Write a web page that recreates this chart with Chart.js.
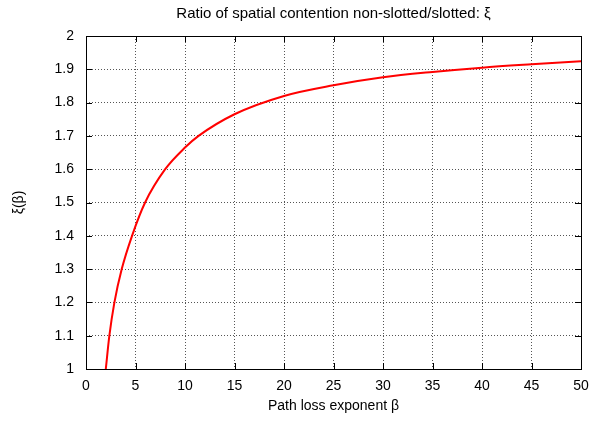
<!DOCTYPE html>
<html>
<head>
<meta charset="utf-8">
<script src="https://cdn.jsdelivr.net/npm/chart.js@4"></script>
<style>
  html, body { margin: 0; padding: 0; background: #fff; }
  #wrap { width: 608px; height: 422px; }
</style>
</head>
<body>
<div id="wrap"><canvas id="xiChart" width="608" height="422"></canvas></div>
<script>
// käyrän lukemat kuvasta (beta, xi)
const beta = [2, 2.36, 2.87, 3.61, 4.65, 5.97, 8, 10, 11.37, 15, 20, 25, 30, 35, 40, 45, 50];
const xi   = [1.0, 1.1, 1.2, 1.3, 1.4, 1.5, 1.6, 1.665, 1.7, 1.765, 1.82, 1.852, 1.876, 1.892, 1.905, 1.915, 1.924];

const otsikko = 'Ratio of spatial contention non-slotted/slotted: \u03be';
const xOtsikko = 'Path loss exponent \u03b2';
const yOtsikko = '\u03be(\u03b2)';

const fontti = "'Liberation Sans', Arial, Helvetica, sans-serif";

// kehys, sisäänpäin tulevat tikit ja otsikko
const kehysPlugin = {
  id: 'kehys',
  afterDraw(c) {
    const a = c.chartArea, ctx = c.ctx;
    const xs = c.scales.x, ys = c.scales.y;
    ctx.save();
    ctx.strokeStyle = '#000';
    ctx.lineWidth = 1;
    ctx.beginPath();
    xs.ticks.forEach(t => {
      const px = Math.round(xs.getPixelForValue(t.value)) + 0.5;
      ctx.moveTo(px, a.bottom); ctx.lineTo(px, a.bottom - 6);
      ctx.moveTo(px, a.top); ctx.lineTo(px, a.top + 6);
    });
    ys.ticks.forEach(t => {
      const py = Math.round(ys.getPixelForValue(t.value)) + 0.5;
      ctx.moveTo(a.left, py); ctx.lineTo(a.left + 6, py);
      ctx.moveTo(a.right, py); ctx.lineTo(a.right - 6, py);
    });
    ctx.stroke();
    ctx.strokeRect(Math.round(a.left) + 0.5, Math.round(a.top) + 0.5,
      Math.round(a.right - a.left), Math.round(a.bottom - a.top));
    ctx.fillStyle = '#000';
    ctx.font = '15px ' + fontti;
    ctx.textAlign = 'center';
    ctx.textBaseline = 'middle';
    ctx.fillText(otsikko, (a.left + a.right) / 2, 14);
    ctx.restore();
  }
};

new Chart(document.getElementById('xiChart'), {
  type: 'line',
  data: {
    datasets: [{
      data: beta.map((b, i) => ({ x: b, y: xi[i] })),
      borderColor: '#ff0000',
      borderWidth: 2,
      pointRadius: 0,
      fill: false,
      cubicInterpolationMode: 'monotone'
    }]
  },
  options: {
    responsive: false,
    animation: false,
    layout: { padding: { top: 36, right: 27, left: 0, bottom: 0 } },
    plugins: { legend: { display: false }, tooltip: { enabled: false } },
    scales: {
      x: {
        type: 'linear', min: 0, max: 50,
        ticks: { stepSize: 5, color: '#000', padding: 9, font: { family: fontti, size: 14 }, maxRotation: 0 },
        grid: { color: '#555', lineWidth: 1, drawTicks: false },
        border: { display: false, dash: [1, 2] },
        title: { display: true, text: xOtsikko, color: '#000', font: { family: fontti, size: 14 }, padding: { top: 4, bottom: 7 } },
        afterFit(s) { s.height = 53; }
      },
      y: {
        min: 1, max: 2,
        ticks: { stepSize: 0.1, color: '#000', padding: 12, font: { family: fontti, size: 14 },
          callback: v => Number(v.toFixed(1)).toString() },
        grid: { color: '#555', lineWidth: 1, drawTicks: false },
        border: { display: false, dash: [1, 2] },
        title: { display: true, text: yOtsikko, color: '#000', font: { family: fontti, size: 14 }, padding: { top: 11 } },
        afterFit(s) { s.width = 86; }
      }
    }
  },
  plugins: [kehysPlugin]
});
</script>
</body>
</html>
